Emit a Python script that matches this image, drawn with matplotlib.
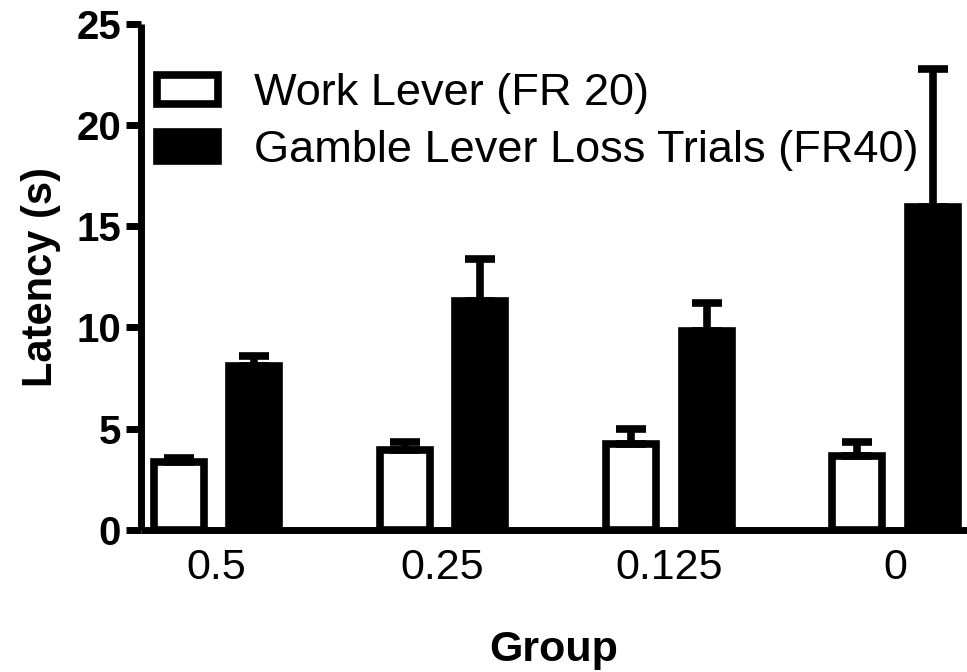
import numpy as np
import matplotlib
matplotlib.use("Agg")
import matplotlib.pyplot as plt

# values (mean latency, upper SEM)
groups = ["0.5", "0.25", "0.125", "0"]
work_mean = [3.36, 3.95, 4.24, 3.65]
work_sem = [0.2, 0.4, 0.75, 0.7]
gamble_mean = [8.09, 11.3, 9.82, 15.94]
gamble_sem = [0.5, 2.1, 1.4, 6.8]
series_labels = ["Work Lever (FR 20)", "Gamble Lever Loss Trials (FR40)"]

plt.rcParams['font.family'] = ['Liberation Sans', 'DejaVu Sans']

fig = plt.figure(figsize=(9.67, 6.72), dpi=100)
ax = fig.add_axes([0.1453, 0.2113, 1.0 - 0.1453, 0.965 - 0.2113])

x = np.arange(len(groups))
w = 0.221
off = 0.167
lw = 5.5

ax.bar(x - off, work_mean, w, color='white', edgecolor='black',
       linewidth=lw, label=series_labels[0], zorder=2)
ax.bar(x + off, gamble_mean, w, color='black', edgecolor='black',
       linewidth=lw, label=series_labels[1], zorder=2)

# only the upper half of each error bar, as in the original
ax.errorbar(x - off, work_mean, yerr=[np.zeros(4), work_sem], fmt='none',
            ecolor='black', elinewidth=lw, capsize=11, capthick=lw, zorder=3)
ax.errorbar(x + off, gamble_mean, yerr=[np.zeros(4), gamble_sem], fmt='none',
            ecolor='black', elinewidth=lw, capsize=11, capthick=lw, zorder=3)

ax.set_xlim(-0.335, 3.318)
ax.set_ylim(0, 25)
ax.set_yticks([0, 5, 10, 15, 20, 25])
ax.set_xticks(x)
ax.set_xticklabels(groups)

for s in ['top', 'right']:
    ax.spines[s].set_visible(False)
for s in ['left', 'bottom']:
    ax.spines[s].set_linewidth(5)
    ax.spines[s].set_capstyle('butt')

ax.tick_params(axis='y', length=11, width=5, pad=3, labelsize=29)
ax.tick_params(axis='x', length=0, pad=13, labelsize=31)
for t in ax.get_yticklabels():
    t.set_fontweight('bold')

ax.set_ylabel("Latency (s)", fontsize=30, fontweight='bold', labelpad=11)
ax.set_xlabel("Group", fontsize=31, fontweight='bold', labelpad=30)

ax.legend(loc='upper left', bbox_to_anchor=(0.162, 0.891),
          bbox_transform=fig.transFigure, frameon=False, fontsize=32.5,
          borderpad=0, borderaxespad=0, handlelength=1.37, handleheight=0.61,
          handletextpad=0.78, labelspacing=0.36)

fig.savefig("out.png", dpi=100)
